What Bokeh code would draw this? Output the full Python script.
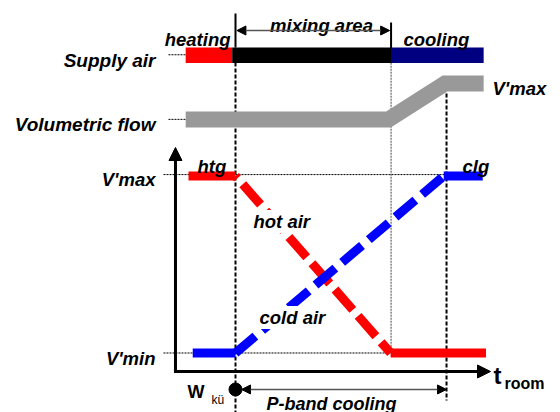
from bokeh.plotting import figure
from bokeh.models import Range1d, Arrow, NormalHead
from bokeh.core.properties import value
from bokeh.embed import file_html
from bokeh.resources import INLINE

FONT = "Liberation Sans"

# ---- data (schematic units: x = room temperature relative to W_kü, y = relative flow) ----
V_min, V_max = 0.0, 1.0
W_ku = 0.0            # cooling set point
t_mix_end = 3.31      # end of mixing area
t_pband_end = 4.49    # end of P-band cooling

# upper panel: supply air zones
zone_names = ["heating", "mixing area", "cooling"]
zone_edges = [-1.06, -0.07, 3.31, 5.28]
zone_colors = ["#ff0000", "#000000", "#000080"]
supply_row = 1.682

# upper panel: volumetric flow band
flow_x = [-1.06, 3.255, 4.457, 5.28]
flow_y = [1.319, 1.319, 1.523, 1.523]

# lower panel: hot air and cold air valves
hot_x = [-1.0, 0.0, 3.3, 5.33]
hot_y = [V_max, V_max, V_min, V_min]
cold_x = [-0.91, 0.0, 4.43, 5.26]
cold_y = [V_min, V_min, V_max, V_max]

# axes of the lower panel
axis_x0, axis_y0 = -1.277, -0.1045
axis_x1, axis_y1 = 5.426, 1.161

p = figure(width=560, height=412,
           x_range=Range1d(-5.0, 6.91489), y_range=Range1d(-0.33616, 1.99153),
           output_backend="svg", toolbar_location=None, min_border=0,
           x_axis_location=None, y_axis_location=None)
p.grid.visible = False
p.outline_line_color = None
p.background_fill_color = "white"
p.border_fill_color = "white"

# dotted leader / level lines
p.line([-1.426, zone_edges[0]], [1.685, 1.685], line_color="black", line_width=1, line_dash="2 1")
p.line([-1.426, flow_x[0]], [1.32, 1.32], line_color="black", line_width=1, line_dash="2 1")
p.line([-1.532, t_pband_end], [V_max + 0.008, V_max + 0.008], line_color="black", line_width=1, line_dash="2 1")
p.line([-1.532, t_mix_end], [V_min, V_min], line_color="black", line_width=1, line_dash="2 1")

# vertical marker lines
p.line([W_ku, W_ku], [1.918, 1.726], line_color="black", line_width=2)
p.line([W_ku, W_ku], [1.641, -0.34], line_color="black", line_width=2, line_dash="4 2")
p.line([t_mix_end, t_mix_end], [1.867, 1.64], line_color="black", line_width=2)
p.line([t_mix_end, t_mix_end], [1.64, V_min], line_color="#444444", line_width=1, line_dash="2 1")
p.line([t_pband_end, t_pband_end], [1.466, -0.268], line_color="black", line_width=2, line_dash="4 2")

# supply air bar
for i in range(len(zone_names)):
    p.line([zone_edges[i], zone_edges[i + 1]], [supply_row, supply_row],
           line_color=zone_colors[i], line_width=15.5, line_cap="butt")

# volumetric flow band
p.line(flow_x, flow_y, line_color="#999999", line_width=16, line_cap="butt", line_join="miter")

# hot air (red) and cold air (blue)
p.line(hot_x[0:2], hot_y[0:2], line_color="#ff0000", line_width=9, line_cap="butt")
p.line(hot_x[1:3], hot_y[1:3], line_color="#ff0000", line_width=9, line_cap="butt",
       line_dash="27 8", line_dash_offset=24)
p.line(hot_x[2:4], hot_y[2:4], line_color="#ff0000", line_width=9, line_cap="butt")
p.line(cold_x[0:2], cold_y[0:2], line_color="#0000ff", line_width=9, line_cap="butt")
p.line(cold_x[1:3], cold_y[1:3], line_color="#0000ff", line_width=9, line_cap="butt",
       line_dash="26 9", line_dash_offset=0)
p.line(cold_x[2:4], cold_y[2:4], line_color="#0000ff", line_width=9, line_cap="butt")

# axes arrows
p.add_layout(Arrow(end=NormalHead(size=13, fill_color="black", line_color="black"),
                   x_start=axis_x0, y_start=axis_y0, x_end=axis_x0, y_end=axis_y1,
                   line_color="black", line_width=3, line_cap="square"))
p.add_layout(Arrow(end=NormalHead(size=13, fill_color="black", line_color="black"),
                   x_start=axis_x0, y_start=axis_y0, x_end=axis_x1, y_end=axis_y0,
                   line_color="black", line_width=3, line_cap="square"))

# mixing area arrow
p.add_layout(Arrow(start=NormalHead(size=9, fill_color="black", line_color="black"),
                   end=NormalHead(size=9, fill_color="black", line_color="black"),
                   x_start=W_ku + 0.03, y_start=1.822, x_end=t_mix_end - 0.03, y_end=1.822,
                   line_color="#555555", line_width=1.5))
# P-band arrow
p.add_layout(Arrow(start=NormalHead(size=9, fill_color="black", line_color="black"),
                   end=NormalHead(size=9, fill_color="black", line_color="black"),
                   x_start=0.128, y_start=-0.206, x_end=t_pband_end, y_end=-0.206,
                   line_color="#555555", line_width=1.5))

# W_kü dot
p.scatter([W_ku], [-0.206], size=13, color="black")

def label(x, y, t, align="left", size="18.5px", style="bold italic", bg=None):
    kw = {}
    if bg:
        kw = dict(background_fill_color=bg, padding=1)
    p.text(x=[x], y=[y], text=[t], text_font=value(FONT), text_font_size=size,
           text_font_style=style, text_align=align, text_baseline="alphabetic",
           text_color="black", **kw)

label(-1.702, 1.655, "Supply air", "right", "19px")
label(-1.702, 1.291, "Volumetric flow", "right", "19px")
label(-0.106, 1.771, zone_names[0], "right")
label(1.83, 1.853, zone_names[1], "center")
label(3.574, 1.771, zone_names[2], "left")
label(5.468, 1.494, "V'max", "left")
label(-1.702, 0.980, "V'max", "right")
label(-1.702, -0.031, "V'min", "right")
label(-0.809, 1.054, "htg", "left")
label(4.83, 1.054, "clg", "left")
label(0.362, 0.743, "hot air", "left", bg="white")
label(0.489, 0.201, "cold air", "left", bg="white")
label(0.66, -0.287, "P-band cooling", "left", "18px")
label(-1.021, -0.223, "W", "left", "18px", "bold")
label(-0.511, -0.263, "kü", "left", "12px", "normal")
label(5.489, -0.127, "t", "left", "24px", "bold")
label(5.723, -0.172, "room", "left", "16px", "bold")

open("out.html", "w").write(file_html(p, INLINE))
